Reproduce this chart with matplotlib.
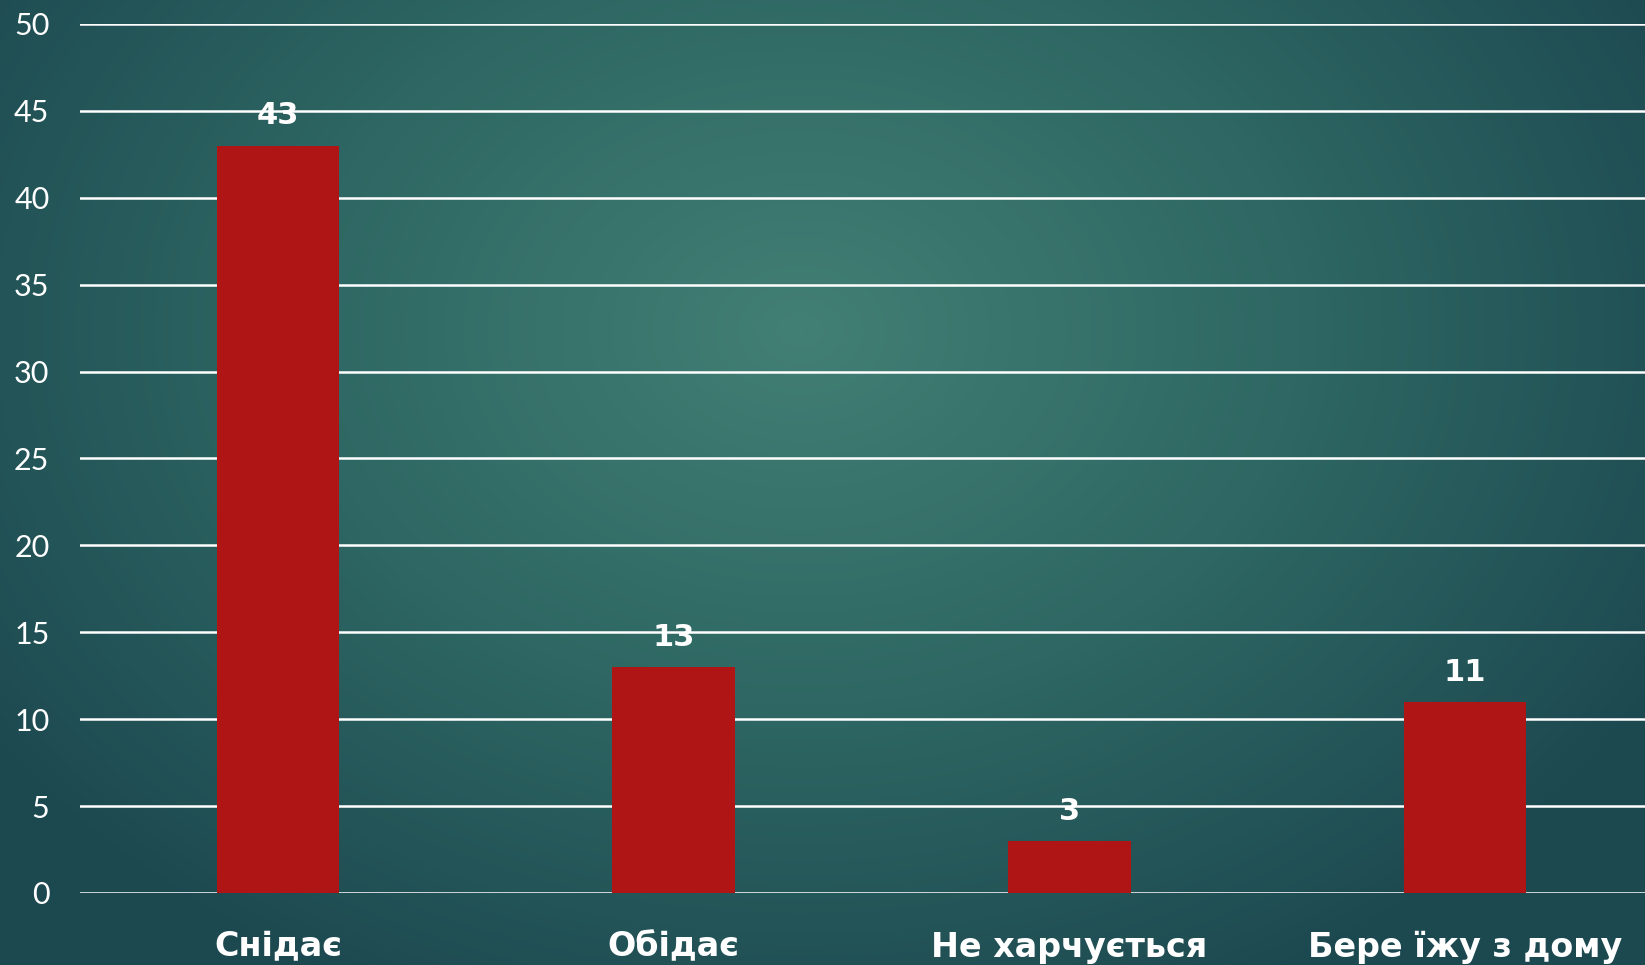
import numpy as np
import matplotlib.pyplot as plt
from matplotlib.colors import LinearSegmentedColormap

categories = ['Снідає', 'Обідає', 'Не харчується', 'Бере їжу з дому']
values = [43, 13, 3, 11]
yticks = [0, 5, 10, 15, 20, 25, 30, 35, 40, 45, 50]

W, H = 1645, 965
fig = plt.figure(figsize=(W / 100, H / 100), dpi=100)

# background: radial teal gradient, lighter near the middle
bg = fig.add_axes([0, 0, 1, 1])
yy, xx = np.mgrid[0:H, 0:W]
r = np.sqrt(((xx - 800) / 1000.0) ** 2 + ((yy - 330) / 750.0) ** 2)
r = np.clip(r, 0, 1)
cmap = LinearSegmentedColormap.from_list('bg', ['#427f74', '#2e6763', '#1c4850'])
bg.imshow(r, cmap=cmap, aspect='auto', extent=[0, 1, 0, 1], origin='upper')
bg.axis('off')

# main plot area (runs slightly past the right edge like the slide)
left = 80 / W
width = 1583 / W
bottom = (H - 893) / H
height = (893 - 24) / H
ax = fig.add_axes([left, bottom, width, height])
ax.patch.set_alpha(0)

x = np.arange(len(categories))
ax.bar(x, values, width=0.31, color='#b01515', zorder=3)
ax.set_xlim(-0.5, 3.5)
ax.set_ylim(0, 50)
ax.set_yticks(yticks)
for t in yticks:
    ax.axhline(t, color='white', lw=1.8, zorder=2)

for xi, v in zip(x, values):
    ax.annotate(str(v), (xi, v), xytext=(0, 11), textcoords='offset points',
                ha='center', va='bottom', color='white', fontsize=22,
                fontweight='bold', family='DejaVu Sans', zorder=4)

ax.set_xticks(x)
ax.set_xticklabels(categories)
for lab in ax.get_xticklabels():
    lab.set_family('DejaVu Sans')
    lab.set_fontweight('bold')
    lab.set_fontsize(24)
    lab.set_color('white')
ax.tick_params(axis='x', length=0, pad=27)
ax.tick_params(axis='y', length=0, pad=22)
for lab in ax.get_yticklabels():
    lab.set_family('Lato')
    lab.set_fontsize(22)
    lab.set_color('white')
for s in ax.spines.values():
    s.set_visible(False)

fig.savefig('out.png', dpi=100)
